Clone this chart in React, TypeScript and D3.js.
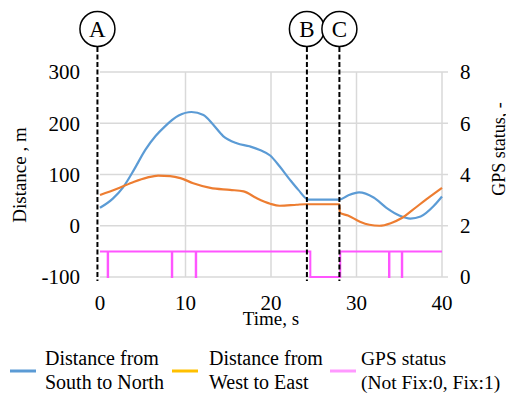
import * as d3 from 'd3'

// time axis, s
const snTime = [0, 1.5, 2.7, 4, 5.3, 6.5, 7.6, 9.2, 10.7, 12.1, 13.25, 14.4, 16, 17.5, 18.7, 19.9, 21, 22.2, 23.2, 24.4, 28, 29, 30.3, 32, 33.5, 35, 36.3, 37.5, 39, 40]
const snDist = [35, 53, 75, 110, 148, 175, 194, 215, 222, 216, 197, 175, 161, 155, 148, 137, 116, 90, 70, 51, 51, 59, 65, 55, 35, 20, 14, 18, 38, 57]

const weTime = [0, 2, 4, 5.5, 6.8, 8.2, 9.4, 10.9, 12.9, 15.2, 16.8, 18.3, 19.9, 21, 23, 24, 28, 28.05, 29, 30.4, 31.5, 32.7, 34, 35.3, 36.5, 38.2, 40]
const weDist = [60, 72, 86, 94, 98, 97, 93, 83, 74, 70, 67, 54, 43, 39, 41, 42, 42, 25, 20, 8, 2, 0, 5, 15, 30, 52, 74]

const gpsTime = [0, 0.9, 0.95, 8.4, 8.45, 11.2, 11.25, 24.6, 28.1, 33.8, 33.85, 35.3, 35.35, 40]
const gpsStatus = [1, 0, 1, 0, 1, 0, 1, 0, 1, 0, 1, 0, 1, 1]

const xTicks = [0, 10, 20, 30, 40]
const yTicks = [-100, 0, 100, 200, 300]
const y2Ticks = [0, 2, 4, 6, 8]

const markerLabels = ['A', 'B', 'C']
const markerTimes = [-0.3, 24.2, 28.0]

const legendLabels = [
  ['Distance from', 'South to North'],
  ['Distance from', 'West to East'],
  ['GPS status', '(Not Fix:0, Fix:1)'],
]
const legendColors = ['#5b9bd5', '#ffc000', '#ff99ff']

const FONT = '"Liberation Serif", "Times New Roman", serif'

export default function App() {
  const x = d3.scaleLinear().domain([0, 40]).range([100, 442])
  const y = d3.scaleLinear().domain([-100, 300]).range([277, 72])
  const y2 = d3.scaleLinear().domain([0, 8]).range([277, 72])

  const line = d3
    .line<[number, number]>()
    .x(d => x(d[0]))
    .y(d => y(d[1]))
    .curve(d3.curveMonotoneX)

  const snPath = line(snTime.map((t, i) => [t, snDist[i]]))!
  const wePath = line(weTime.map((t, i) => [t, weDist[i]]))!
  const gpsPath = d3
    .line<[number, number]>()
    .x(d => x(d[0]))
    .y(d => y2(d[1]))
    .curve(d3.curveStepAfter)(gpsTime.map((t, i) => [t, gpsStatus[i]]))!

  const legendX = [10, 172, 330]
  const legendTextX = [45, 209, 361]

  return (
    <svg
      width={506}
      height={395}
      style={{ position: 'absolute', left: 0, top: 0, background: '#fff' }}
      fontFamily={FONT}
    >
      <rect width={506} height={395} fill="#fff" />

      {/* grid */}
      {yTicks.map(t => (
        <line key={'h' + t} x1={100} x2={448} y1={y(t)} y2={y(t)} stroke="#d9d9d9" strokeWidth={1.5} />
      ))}
      {xTicks.filter(t => t > 0).map(t => (
        <line key={'v' + t} x1={x(t)} x2={x(t)} y1={72} y2={277} stroke="#d9d9d9" strokeWidth={1.5} />
      ))}

      {/* series */}
      <path d={snPath} fill="none" stroke="#5b9bd5" strokeWidth={2.2} />
      <path d={wePath} fill="none" stroke="#ed7d31" strokeWidth={2.2} />
      <path d={gpsPath} fill="none" stroke="#ff55ff" strokeWidth={2} />

      {/* left axis */}
      {yTicks.map(t => (
        <text key={'yl' + t} x={80} y={y(t)} dy="0.35em" textAnchor="end" fontSize={21} fill="#000">
          {t}
        </text>
      ))}
      {/* right axis */}
      {y2Ticks.map(t => (
        <text key={'yr' + t} x={460} y={y2(t)} dy="0.35em" textAnchor="start" fontSize={21} fill="#000">
          {t}
        </text>
      ))}
      {/* x axis */}
      {xTicks.map(t => (
        <text key={'xl' + t} x={x(t)} y={310} textAnchor="middle" fontSize={21} fill="#000">
          {t}
        </text>
      ))}
      <text x={271} y={325} textAnchor="middle" fontSize={19} fill="#000">Time, s</text>
      <text transform="translate(26,175) rotate(-90)" textAnchor="middle" fontSize={19} fill="#000">
        Distance , m
      </text>
      <text transform="translate(505,149) rotate(-90)" textAnchor="middle" fontSize={18} fill="#000">
        GPS status, -
      </text>

      {/* event markers */}
      {markerTimes.map((t, i) => (
        <g key={markerLabels[i]}>
          <line x1={x(t)} x2={x(t)} y1={47} y2={281} stroke="#000" strokeWidth={2} strokeDasharray="5,2.5" />
          <circle cx={x(t)} cy={29} r={17.5} fill="#fff" stroke="#000" strokeWidth={1.5} />
          <text x={x(t)} y={29} dy="0.35em" textAnchor="middle" fontSize={23} fill="#000">
            {markerLabels[i]}
          </text>
        </g>
      ))}

      {/* legend */}
      {legendLabels.map((lab, i) => (
        <g key={'lg' + i}>
          <line x1={legendX[i]} x2={legendX[i] + 26} y1={371} y2={371} stroke={legendColors[i]} strokeWidth={3} />
          <text x={legendTextX[i]} y={365} fontSize={i === 2 ? 19.5 : 20} fill="#000">{lab[0]}</text>
          <text x={legendTextX[i]} y={389} fontSize={i === 2 ? 19.5 : 20} fill="#000">{lab[1]}</text>
        </g>
      ))}
    </svg>
  )
}
